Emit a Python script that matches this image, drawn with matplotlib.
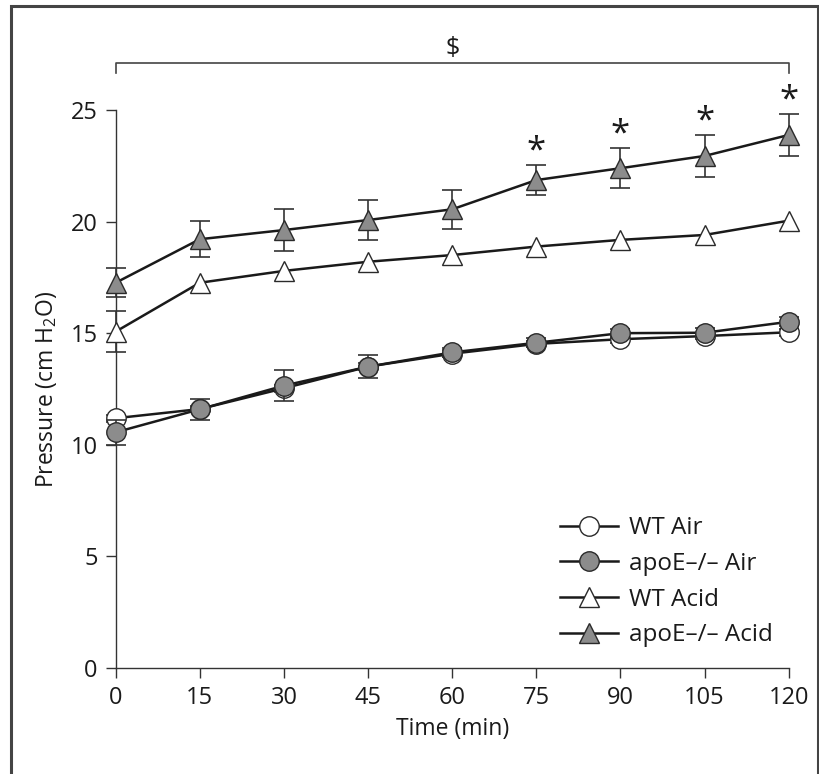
import numpy as np
import matplotlib
matplotlib.use("Agg")
import matplotlib.pyplot as plt
from matplotlib.patches import Rectangle

plt.rcParams['font.family'] = ['Open Sans', 'DejaVu Sans']
plt.rcParams['mathtext.default'] = 'regular'

# Data (nan = error bar hidden by the marker)
time = [0, 15, 30, 45, 60, 75, 90, 105, 120]

wt_air = [11.19, 11.60, 12.53, 13.50, 14.08, 14.52, 14.73, 14.87, 15.04]
wt_air_err = [0.15, 0.15, 0.15, 0.15, 0.15, 0.15, 0.15, 0.15, 0.15]

apoe_air = [10.56, 11.59, 12.65, 13.50, 14.14, 14.57, 15.00, 15.02, 15.51]
apoe_air_err = [0.57, 0.47, 0.70, 0.52, 0.2, 0.2, 0.2, 0.2, 0.2]

wt_acid = [15.07, 17.26, 17.79, 18.20, 18.50, 18.88, 19.18, 19.40, 20.04]
wt_acid_err = [0.93, np.nan, np.nan, np.nan, np.nan, np.nan, np.nan, np.nan,
               np.nan]

apoe_acid = [17.26, 19.21, 19.62, 20.07, 20.55, 21.86, 22.39, 22.94, 23.88]
apoe_acid_err = [0.65, 0.80, 0.95, 0.89, 0.88, 0.68, 0.90, 0.94, 0.93]

star_times = [75, 90, 105, 120]

series = [
    ("WT Air", wt_air, wt_air_err, 'o', 'white'),
    ("apoE\u2013/\u2013 Air", apoe_air, apoe_air_err, 'o', '#8c8c8c'),
    ("WT Acid", wt_acid, wt_acid_err, '^', 'white'),
    ("apoE\u2013/\u2013 Acid", apoe_acid, apoe_acid_err, '^', '#8c8c8c'),
]

fig = plt.figure(figsize=(8.2, 7.74), dpi=100)
ax = fig.add_axes([0.1411, 0.1370, 0.8207, 0.7209])

edge = '#2a2a2a'
handles = []
for i, (label, vals, errs, mk, fc) in enumerate(series):
    ax.errorbar(time, vals, yerr=errs, fmt='none', ecolor='#333333',
                elinewidth=1.2, capsize=7, capthick=1.2, zorder=2 + i * 2,
                clip_on=False)
    h, = ax.plot(time, vals, color='#1a1a1a', lw=1.8, marker=mk,
                 markersize=14 if mk == 'o' else 14.5, markerfacecolor=fc,
                 markeredgecolor=edge, markeredgewidth=1.0,
                 zorder=3 + i * 2, clip_on=False, label=label)
    handles.append(h)

# significance asterisks above the apoE acid error bars
for t in star_times:
    k = time.index(t)
    ax.text(t, apoe_acid[k] + apoe_acid_err[k] + 0.6, '*', ha='center',
            va='center', fontsize=25, color='#1a1a1a', zorder=12)

# bracket across the whole time course
ax.plot([0, 0, 120, 120], [26.67, 27.09, 27.09, 26.67], color='#444444',
        lw=1.2, clip_on=False)
ax.text(60, 27.75, r'\$', ha='center', va='center', fontsize=18,
        color='#1a1a1a')

ax.set_xlim(0, 120)
ax.set_ylim(0, 25)
ax.set_xticks(time)
ax.set_yticks([0, 5, 10, 15, 20, 25])
for s in ['top', 'right']:
    ax.spines[s].set_visible(False)
for s in ['left', 'bottom']:
    ax.spines[s].set_color('#333333')
    ax.spines[s].set_linewidth(1.0)
ax.tick_params(direction='out', length=7, width=1.0, color='#333333',
               labelsize=17, labelcolor='#1a1a1a', pad=6)
ax.set_xlabel('Time (min)', fontsize=16.5, color='#1a1a1a', labelpad=5)
ax.set_ylabel('Pressure (cm H$_2$O)', fontsize=16.5, color='#1a1a1a',
              labelpad=8)

leg = ax.legend(handles=handles, loc='upper left', frameon=False,
                bbox_to_anchor=(0.683, 0.333), bbox_transform=fig.transFigure,
                borderpad=0, borderaxespad=0, numpoints=1, handlelength=2.4,
                handletextpad=0.45, labelspacing=0.48, fontsize=17.5)
for t in leg.get_texts():
    t.set_color('#1a1a1a')

# grey frame round the panel
fig.patches.append(Rectangle((11 / 820, -0.05), (818 - 11) / 820,
                             1.05 - 6 / 774, transform=fig.transFigure,
                             fill=False, edgecolor='#444444', lw=2.2,
                             clip_on=False))

fig.savefig('out.png', dpi=100)
